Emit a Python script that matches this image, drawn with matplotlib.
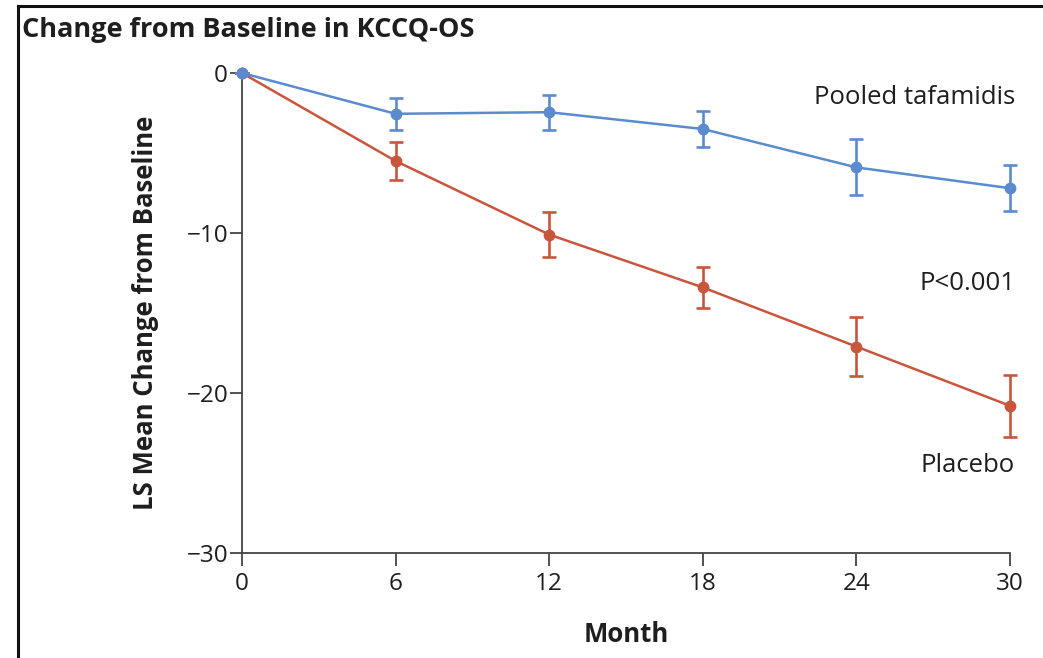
import matplotlib
matplotlib.use("Agg")
import matplotlib.pyplot as plt
from matplotlib.lines import Line2D

plt.rcParams['font.family'] = ['Open Sans', 'DejaVu Sans']

# Data
months = [0, 6, 12, 18, 24, 30]
tafamidis = [0, -2.55, -2.45, -3.5, -5.9, -7.2]
tafamidis_err = [0, 1.0, 1.1, 1.1, 1.75, 1.45]
placebo = [0, -5.5, -10.1, -13.4, -17.1, -20.8]
placebo_err = [0, 1.2, 1.4, 1.3, 1.85, 1.95]
xticks = [0, 6, 12, 18, 24, 30]
yticks = [0, -10, -20, -30]
ytick_labels = ['0', '\u221210', '\u221220', '\u221230']

blue = '#5b8bcf'
red = '#c9553c'
axis_color = '#444444'
text_color = '#1e1e1e'

fig = plt.figure(figsize=(10.43, 6.58), dpi=100)
ax = fig.add_axes([242 / 1043, 1 - 553 / 658, (1010 - 242) / 1043, (553 - 73) / 658])

for y, e, c in [(placebo, placebo_err, red), (tafamidis, tafamidis_err, blue)]:
    ax.errorbar(months, y, yerr=e, color=c, lw=1.8, marker='o', ms=7.5,
                capsize=5, capthick=1.9, elinewidth=1.9, clip_on=False, zorder=3)

ax.set_xlim(0, 30)
ax.set_ylim(-30, 0)
ax.set_xticks(xticks)
ax.set_yticks(yticks)
ax.set_yticklabels(ytick_labels)

for s in ['top', 'right']:
    ax.spines[s].set_visible(False)
for s in ['left', 'bottom']:
    ax.spines[s].set_color(axis_color)
    ax.spines[s].set_linewidth(1.3)

ax.tick_params(axis='x', length=9.5, width=1.3, color=axis_color, labelsize=17.5,
               labelcolor=text_color, pad=4)
ax.tick_params(axis='y', length=9, width=1.3, color=axis_color, labelsize=17.5,
               labelcolor=text_color, pad=1)

ax.set_xlabel('Month', fontsize=18.5, fontweight='bold', color=text_color, labelpad=18)
ax.set_ylabel('LS Mean Change from Baseline', fontsize=18.5, fontweight='bold',
              color=text_color, labelpad=20)

# Series labels
ax.text(1015 / 1043, 1 - 98 / 658, 'Pooled tafamidis', transform=fig.transFigure,
        ha='right', va='center', fontsize=18.5, color=text_color)
ax.text(1015 / 1043, 1 - 283 / 658, 'P<0.001', transform=fig.transFigure,
        ha='right', va='center', fontsize=18.5, color=text_color)
ax.text(1015 / 1043, 1 - 465 / 658, 'Placebo', transform=fig.transFigure,
        ha='right', va='center', fontsize=18.5, color=text_color)

fig.text(22 / 1043, 1 - 30 / 658, 'Change from Baseline in KCCQ-OS', ha='left',
         va='center', fontsize=19.5, fontweight='bold', color=text_color)

# Panel frame (left and top edges)
fig.add_artist(Line2D([18 / 1043, 18 / 1043], [0, 1 - 6 / 658], transform=fig.transFigure,
                      color='#111111', lw=2.2))
fig.add_artist(Line2D([18 / 1043, 1], [1 - 6 / 658, 1 - 6 / 658], transform=fig.transFigure,
                      color='#111111', lw=2.2))

fig.savefig('out.png', dpi=100)
